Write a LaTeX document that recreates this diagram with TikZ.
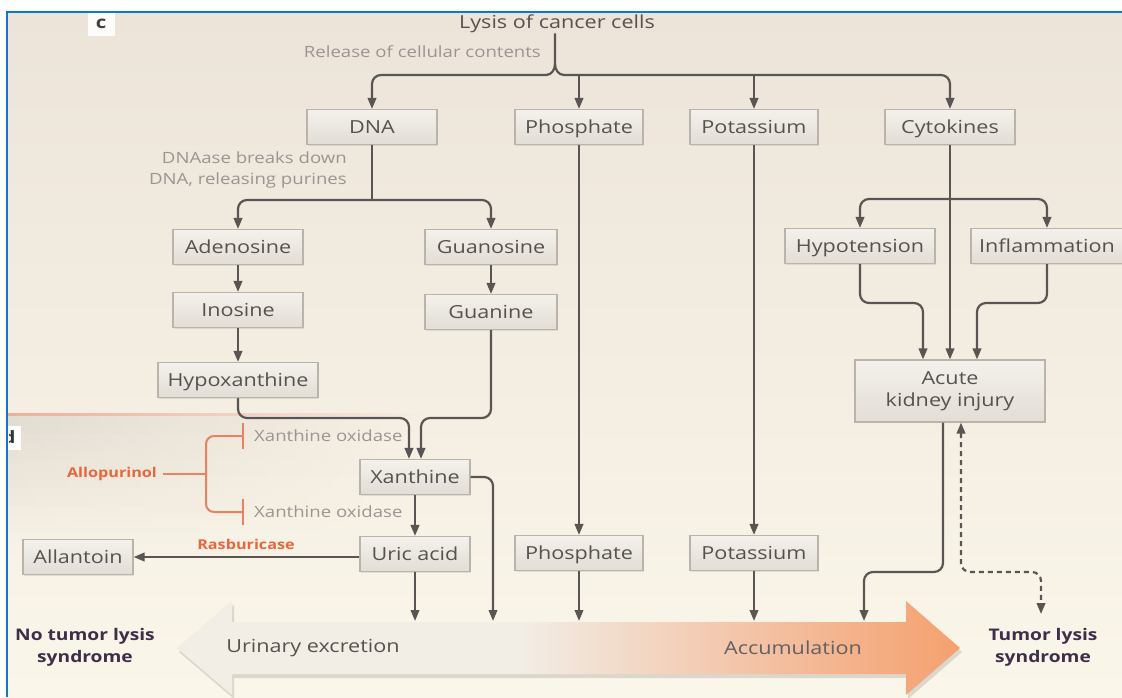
\documentclass[tikz,border=0pt]{standalone}
\usepackage{fontspec}
\setmainfont[FakeStretch=1.2]{Open Sans}
\usetikzlibrary{arrows.meta,fadings,calc,shadows}
\definecolor{bgtop}{HTML}{ECE4D9}
\definecolor{bgbot}{HTML}{FBF6EA}
\definecolor{framec}{HTML}{0A7BC9}
\definecolor{boxtop}{HTML}{F4F1EC}
\definecolor{boxbot}{HTML}{E2DDD5}
\definecolor{boxline}{HTML}{B9B3AB}
\definecolor{txt}{HTML}{58524F}
\definecolor{gtxt}{HTML}{9A9591}
\definecolor{lin}{HTML}{5A5553}
\definecolor{orng}{HTML}{E8663E}
\definecolor{orline}{HTML}{E88260}
\definecolor{darkt}{HTML}{3F2E4A}
\definecolor{arrL}{HTML}{F2EDE5}
\definecolor{arrM}{HTML}{F3C2A5}
\definecolor{arrR}{HTML}{F5A06E}
\pgfdeclarehorizontalshading{tlsarrow}{100bp}{color(0bp)=(arrL); color(25bp)=(arrL); color(47bp)=(arrL); color(62bp)=(arrM); color(75bp)=(arrR); color(100bp)=(arrR)}
\tikzset{
  x=1pt, y=-1pt,
  boxbase/.style={draw=boxline, line width=1.1pt, top color=boxtop, bottom color=boxbot,
    text=txt, font=\fontsize{18}{22}\selectfont, minimum height=35pt, inner sep=0pt,
    drop shadow={shadow xshift=1.2pt, shadow yshift=-1.2pt, opacity=0.18}},
  box/.style={boxbase, text height=14pt, text depth=2pt},
  conn/.style={draw=lin, line width=2.2pt, rounded corners=9pt, -{Triangle[width=8.5pt,length=11pt]}},
  plainline/.style={draw=lin, line width=2.2pt, rounded corners=9pt},
  dashline/.style={draw=lin, line width=2.2pt, rounded corners=9pt, dash pattern=on 5pt off 4pt,
    {Triangle[width=8.5pt,length=11pt]}-{Triangle[width=8.5pt,length=11pt]}},
  graytext/.style={text=gtxt, font=\fontsize{15.5}{21}\selectfont, inner sep=0pt},
  maintext/.style={text=txt, font=\fontsize{18}{22}\selectfont, inner sep=0pt},
  orangebold/.style={text=orng, font=\fontsize{13.5}{16}\selectfont\bfseries, inner sep=0pt},
  darkbold/.style={text=darkt, font=\fontsize{16}{22}\selectfont\bfseries, inner sep=0pt, align=center},
  orl/.style={draw=orline, line width=2pt},
}
\begin{document}
\begin{tikzpicture}
\useasboundingbox (0,0) rectangle (1122,697);
% background
\fill[white] (0,0) rectangle (1122,697);
\shade[top color=bgtop, bottom color=bgbot] (7,12) rectangle (1122,697);
% remnants of panel d
\fill[orline!65, path fading=east] (8,413) rectangle (430,416);
\foreach \i [evaluate=\i as \op using 0.075*(1-\i/14)] in {0,...,13}
  \fill[black, opacity=\op, path fading=east] (8,416+\i*9) rectangle (390,425+\i*9);
\fill[white!92!bgtop] (8,426) rectangle (21,450);
\begin{scope}
\clip (9.5,420) rectangle (30,456);
\node[text=black!80, font=\fontsize{17}{20}\selectfont\bfseries, inner sep=0pt] at (9,437) {d};
\end{scope}
% panel label
\fill[white!90!bgtop] (88,13) rectangle (115,36);
\node[text=black!75, font=\fontsize{17}{20}\selectfont\bfseries, inner sep=0pt] (lbl) at (101,24) {c};

% big arrow
\fill[black, opacity=0.12] (179,652) -- (234,605) -- (234,626) -- (908,626) -- (908,605) -- (962,652) -- (908,699) -- (908,678) -- (234,678) -- (234,699) -- cycle;
\path[shading=tlsarrow] (177,648) -- (232,601) -- (232,622) -- (906,622) -- (906,601) -- (960,648) -- (906,695) -- (906,674) -- (232,674) -- (232,695) -- cycle;
\node[maintext] (urin) at (313,648) {Urinary excretion};
\node[maintext, text=black!62] (accu) at (793,648) {Accumulation};
\node[darkbold] (notls) at (85,647) {No tumor lysis\\syndrome};
\node[darkbold] (tlsn) at (1043,647) {Tumor lysis\\syndrome};

% helper coordinates
\coordinate (hl) at (0,75);
\coordinate (s1) at (0,200);
\coordinate (s2) at (0,199);
\coordinate (m1) at (0,418);
\coordinate (s3) at (0,303);
\coordinate (s4) at (0,572);
\coordinate (bt) at (0,621);
\coordinate (xr) at (493,621);
\coordinate (ak1) at (923,0);
\coordinate (ak2) at (977,0);
\coordinate (ak3) at (943,0);
\coordinate (ak4) at (961,0);
\coordinate (e5) at (864,621);
\coordinate (tlsc) at (1041,614);

% top text
\node[maintext] (lysis) at (557,24) {Lysis of cancer cells};
\node[graytext, anchor=east] (rel) at (541,52) {Release of cellular contents};

% boxes
\node[box, minimum width=130pt] (dna) at (372,127) {DNA};
\node[box, minimum width=128pt] (pho1) at (579,127) {Phosphate};
\node[box, minimum width=128pt] (pot1) at (754,127) {Potassium};
\node[box, minimum width=130pt] (cyt) at (950,127) {Cytokines};
\node[box, minimum width=130pt] (ade) at (238,247) {Adenosine};
\node[box, minimum width=132pt] (gua) at (491,247) {Guanosine};
\node[box, minimum width=130pt] (ino) at (238,310) {Inosine};
\node[box, minimum width=132pt] (gun) at (491,312) {Guanine};
\node[box, minimum width=160pt] (hyp) at (238,380) {Hypoxanthine};
\node[box, minimum width=110pt] (xan) at (415,477) {Xanthine};
\node[box, minimum width=110pt] (uric) at (415,554) {Uric acid};
\node[box, minimum width=110pt] (all) at (78,557) {Allantoin};
\node[box, minimum width=128pt] (pho2) at (579,553) {Phosphate};
\node[box, minimum width=128pt] (pot2) at (754,553) {Potassium};
\node[box, minimum width=150pt] (hpt) at (860,246) {Hypotension};
\node[box, minimum width=152pt] (inf) at (1047,246) {Inflammation};
\node[boxbase, minimum width=190pt, minimum height=62pt, align=center] (aki) at (950,391) {Acute\\kidney injury};

\coordinate (xa) at ($(xan.north)+(-6,0)$);
\coordinate (xb) at ($(xan.north)+(6,0)$);

% brace from lysis
\draw[plainline, rounded corners=0pt] (lysis.south -| 555,0) -- (555,64) to[out=-90,in=0] (546,75);
\draw[plainline, rounded corners=0pt] (555,64) to[out=-90,in=180] (564,75);
\draw[conn] (546,75) -| (dna.north);
\draw[conn] (564,75) -| (cyt.north);
\draw[conn] (pho1.north |- hl) -- (pho1.north);
\draw[conn] (pot1.north |- hl) -- (pot1.north);

% DNA branch
\node[graytext, anchor=east, align=right] (dnase) at (347,170) {DNAase breaks down\\DNA, releasing purines};
\draw[plainline] (dna.south) -- (dna.south |- s1);
\draw[conn] (dna.south |- s1) -| (ade.north);
\draw[conn] (dna.south |- s1) -| (gua.north);
\draw[conn] (ade) -- (ino);
\draw[conn] (ino) -- (hyp);
\draw[conn] (gua) -- (gun);
\draw[conn] (hyp.south) |- (xa |- m1) -- (xa);
\draw[conn] (gun.south) |- (xb |- m1) -- (xb);
\draw[conn] (xan) -- (uric);
\draw[conn] (xan.east) -| (xr);
\draw[conn] (uric.south) -- (uric.south |- bt);
\draw[conn] (uric.west |- all.east) -- (all.east);
\node[orangebold] (ras) at (246,544) {Rasburicase};

% allopurinol
\node[orangebold] (allo) at (112,474) {Allopurinol};
\node[graytext, anchor=west] (xo1) at (254,436) {Xanthine oxidase};
\node[graytext, anchor=west] (xo2) at (254,512) {Xanthine oxidase};
\draw[orl] ([xshift=6pt]allo.east) -- (206,474);
\draw[orl, rounded corners=8pt] ([xshift=-11pt]xo1.west) -| (206,474) |- ([xshift=-11pt]xo2.west);
\draw[orl] ([xshift=-11pt,yshift=-13pt]xo1.west) -- ([xshift=-11pt,yshift=13pt]xo1.west);
\draw[orl] ([xshift=-11pt,yshift=-13pt]xo2.west) -- ([xshift=-11pt,yshift=13pt]xo2.west);

% phosphate, potassium
\draw[conn] (pho1) -- (pho2);
\draw[conn] (pho2.south) -- (pho2.south |- bt);
\draw[conn] (pot1) -- (pot2);
\draw[conn] (pot2.south) -- (pot2.south |- bt);

% cytokines branch
\draw[conn] (cyt) -- (aki);
\draw[conn] (cyt.south |- s2) -| (hpt.north);
\draw[conn] (cyt.south |- s2) -| (inf.north);
\draw[conn] (hpt.south) |- (ak1 |- s3) -- (ak1 |- aki.north);
\draw[conn] (inf.south) |- (ak2 |- s3) -- (ak2 |- aki.north);
\draw[conn] (ak3 |- aki.south) |- (e5 |- s4) -- (e5);
\draw[dashline] (ak4 |- aki.south) |- (tlsc |- s4) -- (tlsc);

% frame
\draw[framec, line width=2.6pt] (7,697) -- (7,12) -- (1122,12);
\end{tikzpicture}
\end{document}
